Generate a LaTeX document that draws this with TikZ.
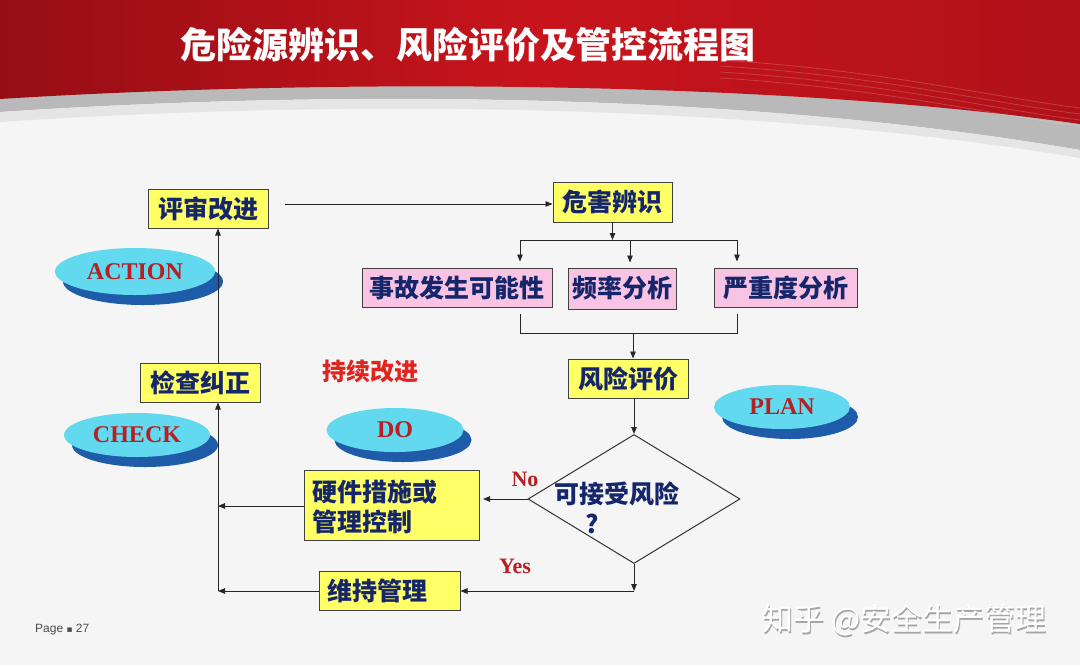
\documentclass[tikz,border=0pt]{standalone}
\usepackage{fontspec}
\setmainfont{Liberation Serif}
\newfontfamily\cjk{Noto Sans CJK SC}
\newfontfamily\lsans{Liberation Sans}
\newfontfamily\dvs{DejaVu Sans}
\usetikzlibrary{arrows.meta,shapes.geometric,shadows,calc}
\definecolor{navy}{HTML}{15266A}
\definecolor{boxyellow}{HTML}{FFFF66}
\definecolor{boxpink}{HTML}{F9C4E4}
\definecolor{ellcyan}{HTML}{62D9EE}
\definecolor{ellblue}{HTML}{1E5CAA}
\definecolor{dred}{HTML}{B81E22}
\definecolor{tred}{HTML}{E0241E}
\definecolor{hdrA}{HTML}{960E14}
\definecolor{hdrB}{HTML}{C8141C}
\definecolor{hdrC}{HTML}{B0121A}
\definecolor{bgc}{HTML}{F5F5F5}
\tikzset{
  box/.style={draw=black!75, line width=1pt, inner sep=0pt, text=navy,
    font=\cjk\bfseries\fontsize{25}{29}\selectfont},
  ybox/.style={box, fill=boxyellow},
  pbox/.style={box, fill=boxpink},
  btext/.style={text=navy, inner sep=0pt, font=\cjk\bfseries\fontsize{25}{29}\selectfont},
  arr/.style={-{Triangle[length=7pt,width=5.5pt]}, line width=0.9pt, draw=black!85},
  ln/.style={line width=0.9pt, draw=black!85},
  ell/.style={ellipse, fill=ellcyan, inner sep=0pt, text=dred,
    font=\bfseries\fontsize{24}{28}\selectfont,
    drop shadow={shadow xshift=8pt, shadow yshift=-10pt, fill=ellblue, opacity=1}},
  lbl/.style={text=dred, font=\bfseries\fontsize{22}{26}\selectfont, inner sep=0pt},
  wmark/.style={font=\cjk\fontsize{31}{35}\selectfont, anchor=west, inner sep=0pt},
}
\begin{document}
\begin{tikzpicture}[x=1pt,y=-1pt]
\useasboundingbox (0,0) rectangle (1080,665);
\fill[bgc] (0,0) rectangle (1080,665);
% header
\fill[gray!55] (0,0) -- (0,112) .. controls (300,92) and (720,88) .. (1080,150) -- (1080,0) -- cycle;
\fill[white!80!gray] (0,112) .. controls (300,92) and (720,88) .. (1080,150) -- (1080,158) .. controls (720,98) and (300,102) .. (0,122) -- cycle;
\shade[left color=hdrA, right color=hdrC, middle color=hdrB] (0,0) -- (0,99) .. controls (300,80) and (760,78) .. (1080,124) -- (1080,0) -- cycle;
\foreach \d in {0,6,12,18}{
  \draw[white, opacity=0.18, line width=0.8pt] (720,60+\d) .. controls (880,70+\d) and (980,95+\d) .. (1080,108+\d);
}
\node[text=white, font=\cjk\bfseries\fontsize{36}{40}\selectfont, inner sep=0pt] (title) at (468,45) {危险源辨识、风险评价及管控流程图};

% boxes
\node[ybox, minimum width=120pt, minimum height=39pt] (rev) at (208,208.5) {评审改进};
\node[ybox, minimum width=119pt, minimum height=40pt] (haz) at (612.5,202) {危害辨识};
\node[pbox, minimum width=190pt, minimum height=39pt] (p1) at (457,287.5) {事故发生可能性};
\node[pbox, minimum width=108pt, minimum height=41pt] (p2) at (622,288.5) {频率分析};
\node[pbox, minimum width=143pt, minimum height=39pt] (p3) at (785.5,287.5) {严重度分析};
\node[ybox, minimum width=120pt, minimum height=39pt] (ris) at (628,378.5) {风险评价};
\node[diamond, draw=black!80, line width=1pt, fill=bgc, minimum width=212pt, minimum height=129pt, inner sep=0pt] (dia) at (634,499) {};
\node[ybox, minimum width=175pt, minimum height=70pt] (hw) at (392,505.5) {};
\node[btext, font=\cjk\bfseries\fontsize{25}{30}\selectfont, align=left, anchor=west] (hwt) at (312,506.5) {硬件措施或\\管理控制};
\node[ybox, minimum width=141pt, minimum height=39pt] (keep) at (389.5,591) {};
\node[btext, anchor=west] (keept) at (327,591) {维持管理};
\node[ybox, minimum width=120pt, minimum height=39pt] (chk) at (200,382.5) {检查纠正};

% diamond text
\node[btext] (q1) at (617,494) {可接受风险};
\node[btext] (q2) at (592,524) {?};
\node[lbl] (no) at (525,479) {No};
\node[lbl] (yes) at (515,566) {Yes};
\node[btext, text=tred, font=\cjk\bfseries\fontsize{24}{28}\selectfont] (ci) at (370,371) {持续改进};

% ellipses
\node[ell, minimum width=160pt, minimum height=47pt] (act) at (135,271.5) {ACTION};
\node[ell, minimum width=146pt, minimum height=44pt] (chkE) at (137,435) {CHECK};
\node[ell, minimum width=137pt, minimum height=44pt] (doE) at (395,430) {DO};
\node[ell, minimum width=136pt, minimum height=44pt] (plan) at (782,407) {PLAN};

% coordinates
\coordinate (b1) at (520,240);
\coordinate (b2) at (630,240);
\coordinate (b3) at (737,240);
\coordinate (m1) at (520,333);
\coordinate (m3) at (737,333);
\coordinate (mc) at (633,333);
\coordinate (yc) at (634,591);
\coordinate (lc) at (218,591);
\coordinate (lh) at (218,506);
\coordinate (ts) at (285,204);

% connectors
\draw[arr] (ts) -- (haz.west |- ts);
\draw[arr] (haz.south) -- (haz.south |- b1);
\draw[ln] (b1) -- (b3);
\draw[arr] (b1) -- ($(p1.north -| b1)+(0,-6)$);
\draw[arr] (b2) -- ($(p2.north -| b2)+(0,-5)$);
\draw[arr] (b3) -- ($(p3.north -| b3)+(0,-6)$);
\draw[ln] ($(p1.south -| m1)+(0,6)$) -- (m1) -- (m3) -- ($(p3.south -| m3)+(0,6)$);
\draw[arr] (mc) -- (ris.north -| mc);
\draw[arr] (ris.south -| dia.north) -- (dia.north);
\draw[arr] (dia.west) -- ($(hw.east |- dia.west)+(3,0)$);
\draw[arr] (hw.west |- lh) -- (lh);
\draw[arr] (dia.south) -- (yc);
\draw[arr] (yc) -- (keep.east);
\draw[arr] (keep.west) -- (lc);
\draw[arr] (lc) -- (lc |- chk.south);
\draw[arr] (lc |- chk.north) -- (lc |- rev.south);

% footer
\node[text=black!70, font=\lsans\fontsize{12}{14}\selectfont, anchor=west, inner sep=0pt] (page) at (35,630) {Page {\dvs\fontsize{9}{10}\selectfont ▪} 27};
\node[wmark, text=gray!70] (wm1) at (763.5,621.5) {知乎 @安全生产管理};
\node[wmark, text=white] (wm) at (762,620) {知乎 @安全生产管理};
\end{tikzpicture}
\end{document}
